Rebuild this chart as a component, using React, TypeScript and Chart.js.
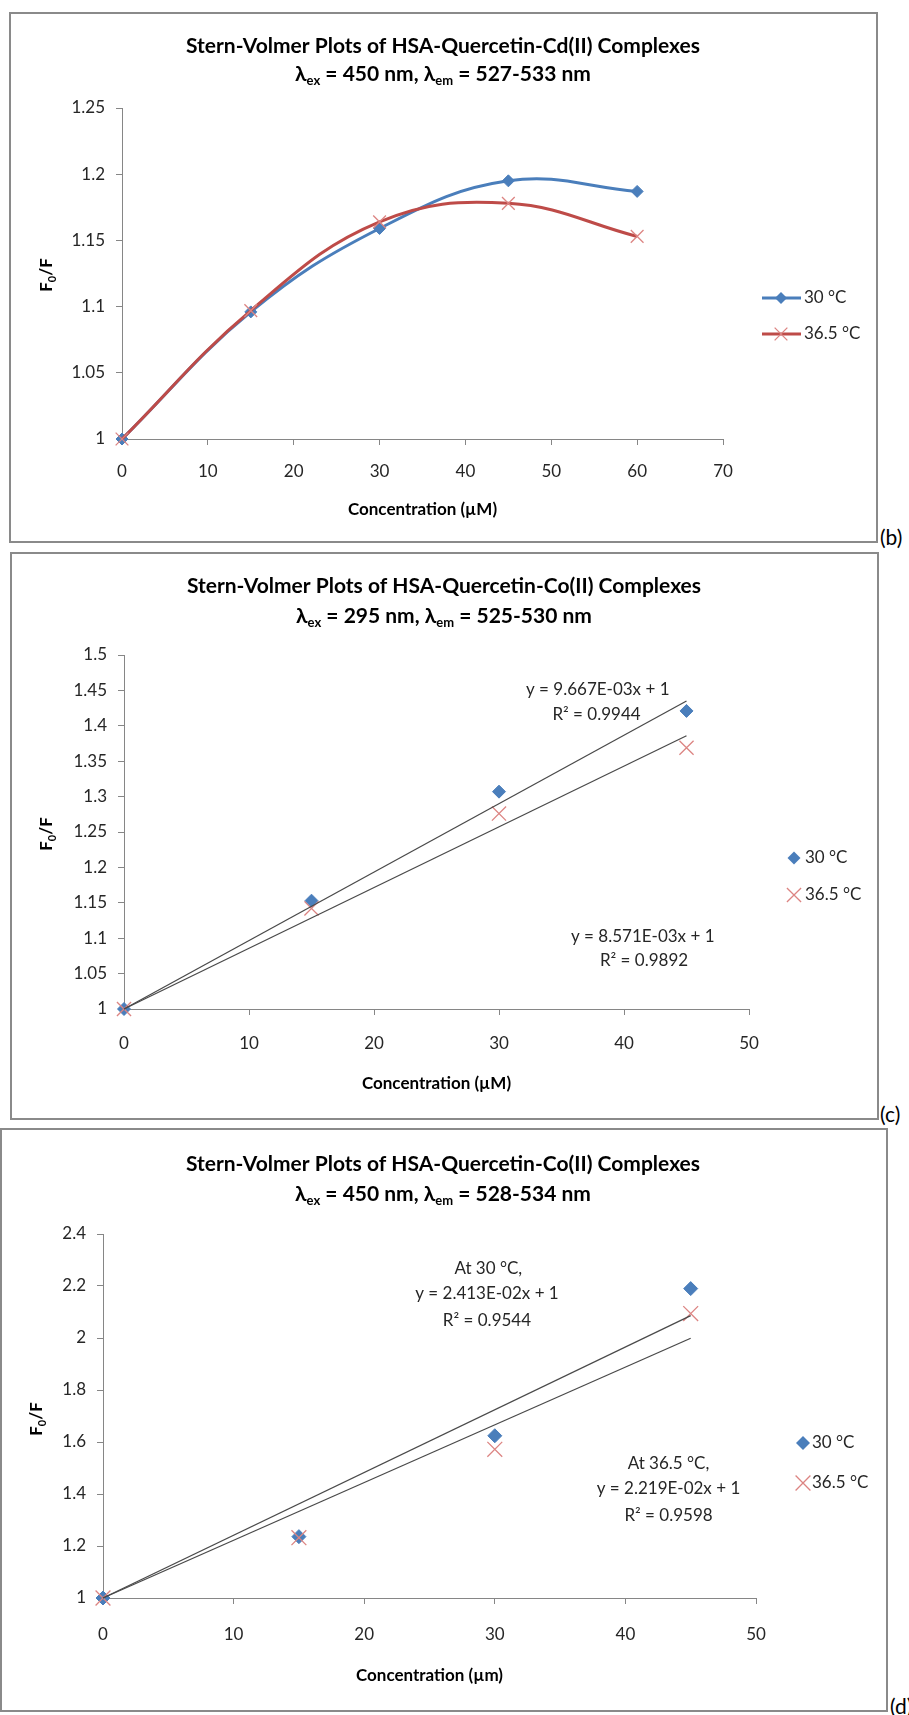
import React, { useEffect, useRef } from 'react';
import { Chart, registerables } from 'chart.js';

Chart.register(...registerables);

// ---------------- data ----------------
const seriesLabels = ['30 °C', '36.5 °C'];

// (b) HSA-Quercetin-Cd(II)
const concB = [0, 15, 30, 45, 60];
const fB30 = [1, 1.096, 1.159, 1.195, 1.187];
const fB365 = [1, 1.097, 1.164, 1.178, 1.153];
const xTicksB = ['0', '10', '20', '30', '40', '50', '60', '70'];
const yTicksB = ['1', '1.05', '1.1', '1.15', '1.2', '1.25'];

// (c) HSA-Quercetin-Co(II), 295 nm
const concC = [0, 15, 30, 45];
const fC30 = [1, 1.153, 1.307, 1.421];
const fC365 = [1, 1.142, 1.276, 1.369];
const trendXC = [0, 45];
const trendC30 = [1, 1.435];
const trendC365 = [1, 1.386];
const xTicksC = ['0', '10', '20', '30', '40', '50'];
const yTicksC = ['1', '1.05', '1.1', '1.15', '1.2', '1.25', '1.3', '1.35', '1.4', '1.45', '1.5'];
const eqC30 = ['y = 9.667E-03x + 1', 'R² = 0.9944'];
const eqC365 = ['y = 8.571E-03x + 1', 'R² = 0.9892'];

// (d) HSA-Quercetin-Co(II), 450 nm
const concD = [0, 15, 30, 45];
const fD30 = [1, 1.236, 1.624, 2.19];
const fD365 = [1, 1.232, 1.572, 2.094];
const trendXD = [0, 45];
const trendD30 = [1, 2.086];
const trendD365 = [1, 1.999];
const xTicksD = ['0', '10', '20', '30', '40', '50'];
const yTicksD = ['1', '1.2', '1.4', '1.6', '1.8', '2', '2.2', '2.4'];
const eqD30 = ['At 30 °C,', 'y = 2.413E-02x + 1', 'R² = 0.9544'];
const eqD365 = ['At 36.5 °C,', 'y = 2.219E-02x + 1', 'R² = 0.9598'];

// ---------------- style ----------------
const FONT = 'Lato, "Open Sans", "DejaVu Sans", sans-serif';
const AXIS = '#868686';
const TEXT = '#262626';
const BLUE = '#4A7EBB';
const RED_LINE = '#BE4B48';
const RED_X = '#DC8482';
const TREND = '#4a4a4a';

type Seg = { t: string; sub?: boolean };

const pts = (xs: number[], ys: number[]) => xs.map((x, i) => ({ x, y: ys[i] }));
const lookup = (labels: string[]) => (v: any) => {
  const n = Number(v);
  const f = labels.find((l) => Math.abs(Number(l) - n) < 1e-6);
  return f === undefined ? '' : f;
};

function drawSegs(ctx: CanvasRenderingContext2D, segs: Seg[], x: number, yc: number, size: number, weight: string, color: string) {
  const main = `${weight} ${size}px ${FONT}`;
  const small = `${weight} ${Math.round(size * 0.64)}px ${FONT}`;
  let w = 0;
  segs.forEach((s) => {
    ctx.font = s.sub ? small : main;
    w += ctx.measureText(s.t).width;
  });
  let cx = x - w / 2;
  const base = yc + size * 0.36;
  ctx.fillStyle = color;
  ctx.textAlign = 'left';
  ctx.textBaseline = 'alphabetic';
  segs.forEach((s) => {
    ctx.font = s.sub ? small : main;
    ctx.fillText(s.t, cx, s.sub ? base + size * 0.2 : base);
    cx += ctx.measureText(s.t).width;
  });
}

function drawMarker(ctx: CanvasRenderingContext2D, style: string, x: number, y: number, r: number, color: string, lw: number) {
  ctx.save();
  if (style === 'rectRot') {
    ctx.fillStyle = color;
    ctx.beginPath();
    ctx.moveTo(x, y - r);
    ctx.lineTo(x + r, y);
    ctx.lineTo(x, y + r);
    ctx.lineTo(x - r, y);
    ctx.closePath();
    ctx.fill();
  } else {
    const d = r * Math.SQRT1_2;
    ctx.strokeStyle = color;
    ctx.lineWidth = lw;
    ctx.beginPath();
    ctx.moveTo(x - d, y - d);
    ctx.lineTo(x + d, y + d);
    ctx.moveTo(x + d, y - d);
    ctx.lineTo(x - d, y + d);
    ctx.stroke();
  }
  ctx.restore();
}

type Decor = {
  titleX: number;
  titleSize: number;
  titleLines: { segs: Seg[]; y: number }[];
  yTitle: { x: number; y: number; size: number };
  legend: {
    line: boolean;
    lineX0?: number;
    lineX1?: number;
    markerX: number;
    textX: number;
    size: number;
    items: { label: string; y: number; style: string; r: number; color: string; lw: number; lineColor?: string }[];
  };
  notes: { text: string; x: number; y: number }[];
  noteSize: number;
};

function makeDecor(d: Decor) {
  return {
    id: 'decor',
    afterDraw(chart: any) {
      const ctx: CanvasRenderingContext2D = chart.ctx;
      ctx.save();
      d.titleLines.forEach((ln) => drawSegs(ctx, ln.segs, d.titleX, ln.y, d.titleSize, 'bold', '#000'));
      ctx.save();
      ctx.translate(d.yTitle.x, d.yTitle.y);
      ctx.rotate(-Math.PI / 2);
      drawSegs(ctx, [{ t: 'F' }, { t: '0', sub: true }, { t: '/F' }], 0, 0, d.yTitle.size, 'bold', '#000');
      ctx.restore();
      const lg = d.legend;
      lg.items.forEach((it) => {
        if (lg.line && it.lineColor) {
          ctx.strokeStyle = it.lineColor;
          ctx.lineWidth = 3;
          ctx.beginPath();
          ctx.moveTo(lg.lineX0!, it.y);
          ctx.lineTo(lg.lineX1!, it.y);
          ctx.stroke();
        }
        drawMarker(ctx, it.style, lg.markerX, it.y, it.r, it.color, it.lw);
        ctx.font = `${lg.size}px ${FONT}`;
        ctx.fillStyle = TEXT;
        ctx.textAlign = 'left';
        ctx.textBaseline = 'middle';
        ctx.fillText(it.label, lg.textX, it.y);
      });
      const xs = chart.scales.x;
      const ys = chart.scales.y;
      ctx.font = `${d.noteSize}px ${FONT}`;
      ctx.fillStyle = TEXT;
      ctx.textAlign = 'center';
      ctx.textBaseline = 'middle';
      d.notes.forEach((n) => ctx.fillText(n.text, xs.getPixelForValue(n.x), ys.getPixelForValue(n.y)));
      ctx.restore();
    },
  };
}

type Frame = {
  pad: { top: number; right: number };
  yW: number;
  xH: number;
  xMax: number;
  yMin: number;
  yMax: number;
  yStep: number;
  xTicks: string[];
  yTicks: string[];
  xTitle: string;
  xLabelPad: number;
  xTitlePad: number;
  yLabelPad: number;
};

function makeOptions(f: Frame): any {
  const tickFont = { family: FONT, size: 17 };
  return {
    responsive: false,
    maintainAspectRatio: false,
    animation: false,
    devicePixelRatio: 1,
    events: [],
    layout: { padding: { left: 0, top: f.pad.top, right: f.pad.right, bottom: 0 } },
    plugins: { legend: { display: false }, tooltip: { enabled: false }, title: { display: false } },
    scales: {
      x: {
        type: 'linear',
        min: 0,
        max: f.xMax,
        ticks: { stepSize: 10, callback: lookup(f.xTicks), font: tickFont, color: TEXT, padding: f.xLabelPad, maxRotation: 0, autoSkip: false },
        grid: { drawOnChartArea: false, drawTicks: true, tickLength: 6, color: AXIS, lineWidth: 1 },
        border: { display: true, color: AXIS, width: 1 },
        title: {
          display: true,
          text: f.xTitle,
          color: '#000',
          font: { family: FONT, size: 17, weight: 'bold' },
          padding: { top: 0, bottom: f.xTitlePad },
        },
        afterFit: (s: any) => {
          s.height = f.xH;
        },
      },
      y: {
        type: 'linear',
        min: f.yMin,
        max: f.yMax,
        ticks: { stepSize: f.yStep, callback: lookup(f.yTicks), font: tickFont, color: TEXT, padding: f.yLabelPad, autoSkip: false },
        grid: { drawOnChartArea: false, drawTicks: true, tickLength: 6, color: AXIS, lineWidth: 1 },
        border: { display: true, color: AXIS, width: 1 },
        afterFit: (s: any) => {
          s.width = f.yW;
        },
      },
    },
  };
}

// ---------------- chart configs ----------------
type Box = { l: number; t: number; w: number; h: number };
const boxB: Box = { l: 9, t: 12, w: 869, h: 531 };
const boxC: Box = { l: 10, t: 552, w: 869, h: 568 };
const boxD: Box = { l: 0, t: 1128, w: 888, h: 584 };

function configB(): any {
  return {
    type: 'scatter',
    data: {
      datasets: [
        {
          label: seriesLabels[0],
          data: pts(concB, fB30),
          showLine: true,
          tension: 0.4,
          borderColor: BLUE,
          backgroundColor: BLUE,
          borderWidth: 3,
          pointStyle: 'rectRot',
          pointRadius: 6,
          pointBackgroundColor: BLUE,
          pointBorderColor: BLUE,
          pointBorderWidth: 1,
          order: 1,
          clip: false,
        },
        {
          label: seriesLabels[1],
          data: pts(concB, fB365),
          showLine: true,
          tension: 0.4,
          borderColor: RED_LINE,
          backgroundColor: RED_LINE,
          borderWidth: 3,
          pointStyle: 'crossRot',
          pointRadius: 9,
          pointBorderColor: RED_X,
          pointBorderWidth: 1.3,
          order: 0,
          clip: false,
        },
      ],
    },
    options: makeOptions({
      pad: { top: 96, right: 155 },
      yW: 113,
      xH: 104,
      xMax: 70,
      yMin: 1,
      yMax: 1.25,
      yStep: 0.05,
      xTicks: xTicksB,
      yTicks: yTicksB,
      xTitle: 'Concentration (µM)',
      xLabelPad: 16,
      xTitlePad: 23,
      yLabelPad: 11,
    }),
    plugins: [
      makeDecor({
        titleX: 434,
        titleSize: 21,
        titleLines: [
          { segs: [{ t: 'Stern-Volmer Plots of HSA-Quercetin-Cd(II) Complexes' }], y: 33 },
          { segs: [{ t: 'λ' }, { t: 'ex', sub: true }, { t: ' = 450 nm, λ' }, { t: 'em', sub: true }, { t: ' = 527-533 nm' }], y: 61 },
        ],
        yTitle: { x: 37, y: 263, size: 17 },
        legend: {
          line: true,
          lineX0: 753,
          lineX1: 792,
          markerX: 772,
          textX: 795,
          size: 17,
          items: [
            { label: seriesLabels[0], y: 286, style: 'rectRot', r: 6, color: BLUE, lw: 1, lineColor: BLUE },
            { label: seriesLabels[1], y: 322, style: 'crossRot', r: 9, color: RED_X, lw: 1.3, lineColor: RED_LINE },
          ],
        },
        notes: [],
        noteSize: 17,
      }),
    ],
  };
}

function trendDs(xs: number[], ys: number[]) {
  return {
    label: '',
    data: pts(xs, ys),
    showLine: true,
    tension: 0,
    borderColor: TREND,
    borderWidth: 1.3,
    pointRadius: 0,
    order: 0,
    clip: false,
  };
}

function markerDs(label: string, xs: number[], ys: number[], diamond: boolean, r: number) {
  return diamond
    ? { label, data: pts(xs, ys), showLine: false, pointStyle: 'rectRot', pointRadius: r, pointBackgroundColor: BLUE, pointBorderColor: BLUE, pointBorderWidth: 1, order: 2, clip: false }
    : { label, data: pts(xs, ys), showLine: false, pointStyle: 'crossRot', pointRadius: r, pointBorderColor: RED_X, pointBorderWidth: 1.3, order: 1, clip: false };
}

function configC(): any {
  return {
    type: 'scatter',
    data: {
      datasets: [
        trendDs(trendXC, trendC30),
        trendDs(trendXC, trendC365),
        markerDs(seriesLabels[0], concC, fC30, true, 6.5),
        markerDs(seriesLabels[1], concC, fC365, false, 10),
      ],
    },
    options: makeOptions({
      pad: { top: 103, right: 130 },
      yW: 114,
      xH: 111,
      xMax: 50,
      yMin: 1,
      yMax: 1.5,
      yStep: 0.05,
      xTicks: xTicksC,
      yTicks: yTicksC,
      xTitle: 'Concentration (µM)',
      xLabelPad: 18,
      xTitlePad: 26,
      yLabelPad: 11,
    }),
    plugins: [
      makeDecor({
        titleX: 434,
        titleSize: 21,
        titleLines: [
          { segs: [{ t: 'Stern-Volmer Plots of HSA-Quercetin-Co(II) Complexes' }], y: 33 },
          { segs: [{ t: 'λ' }, { t: 'ex', sub: true }, { t: ' = 295 nm, λ' }, { t: 'em', sub: true }, { t: ' = 525-530 nm' }], y: 63 },
        ],
        yTitle: { x: 36, y: 282, size: 17 },
        legend: {
          line: false,
          markerX: 784,
          textX: 795,
          size: 17,
          items: [
            { label: seriesLabels[0], y: 306, style: 'rectRot', r: 6.5, color: BLUE, lw: 1 },
            { label: seriesLabels[1], y: 343, style: 'crossRot', r: 10, color: RED_X, lw: 1.3 },
          ],
        },
        notes: [
          { text: eqC30[0], x: 37.9, y: 1.4506 },
          { text: eqC30[1], x: 37.8, y: 1.4153 },
          { text: eqC365[0], x: 41.5, y: 1.1017 },
          { text: eqC365[1], x: 41.6, y: 1.0678 },
        ],
        noteSize: 17,
      }),
    ],
  };
}

function configD(): any {
  return {
    type: 'scatter',
    data: {
      datasets: [
        trendDs(trendXD, trendD30),
        trendDs(trendXD, trendD365),
        markerDs(seriesLabels[0], concD, fD30, true, 7),
        markerDs(seriesLabels[1], concD, fD365, false, 10.5),
      ],
    },
    options: makeOptions({
      pad: { top: 106, right: 132 },
      yW: 103,
      xH: 114,
      xMax: 50,
      yMin: 1,
      yMax: 2.4,
      yStep: 0.2,
      xTicks: xTicksD,
      yTicks: yTicksD,
      xTitle: 'Concentration (µm)',
      xLabelPad: 20,
      xTitlePad: 26,
      yLabelPad: 11,
    }),
    plugins: [
      makeDecor({
        titleX: 443,
        titleSize: 21,
        titleLines: [
          { segs: [{ t: 'Stern-Volmer Plots of HSA-Quercetin-Co(II) Complexes' }], y: 35 },
          { segs: [{ t: 'λ' }, { t: 'ex', sub: true }, { t: ' = 450 nm, λ' }, { t: 'em', sub: true }, { t: ' = 528-534 nm' }], y: 65 },
        ],
        yTitle: { x: 36, y: 291, size: 17 },
        legend: {
          line: false,
          markerX: 803,
          textX: 812,
          size: 17,
          items: [
            { label: seriesLabels[0], y: 315, style: 'rectRot', r: 7, color: BLUE, lw: 1 },
            { label: seriesLabels[1], y: 355, style: 'crossRot', r: 10.5, color: RED_X, lw: 1.3 },
          ],
        },
        notes: [
          { text: eqD30[0], x: 29.5, y: 2.269 },
          { text: eqD30[1], x: 29.4, y: 2.173 },
          { text: eqD30[2], x: 29.4, y: 2.069 },
          { text: eqD365[0], x: 43.3, y: 1.519 },
          { text: eqD365[1], x: 43.3, y: 1.423 },
          { text: eqD365[2], x: 43.3, y: 1.319 },
        ],
        noteSize: 17,
      }),
    ],
  };
}

function ChartBox({ box, make }: { box: Box; make: () => any }) {
  const ref = useRef<HTMLCanvasElement>(null);
  useEffect(() => {
    const chart = new Chart(ref.current as HTMLCanvasElement, make());
    return () => chart.destroy();
  }, []);
  return (
    <>
      <canvas
        ref={ref}
        width={box.w}
        height={box.h}
        style={{ position: 'absolute', left: box.l, top: box.t, width: box.w, height: box.h }}
      />
      <div
        style={{
          position: 'absolute',
          left: box.l,
          top: box.t,
          width: box.w,
          height: box.h,
          border: '2px solid #8a8a8a',
          boxSizing: 'border-box',
          pointerEvents: 'none',
        }}
      />
    </>
  );
}

const tagStyle = (left: number, top: number): React.CSSProperties => ({
  position: 'absolute',
  left,
  top,
  fontFamily: FONT,
  fontSize: 21,
  lineHeight: '24px',
  color: '#000',
  whiteSpace: 'nowrap',
});

export default function App() {
  return (
    <div
      style={{
        position: 'absolute',
        left: 0,
        top: 0,
        width: 909,
        height: 1715,
        overflow: 'hidden',
        background: '#fff',
      }}
    >
      <ChartBox box={boxB} make={configB} />
      <ChartBox box={boxC} make={configC} />
      <ChartBox box={boxD} make={configD} />
      <div style={tagStyle(880, 525)}>(b)</div>
      <div style={tagStyle(880, 1102)}>(c)</div>
      <div style={tagStyle(890, 1694)}>(d)</div>
    </div>
  );
}
